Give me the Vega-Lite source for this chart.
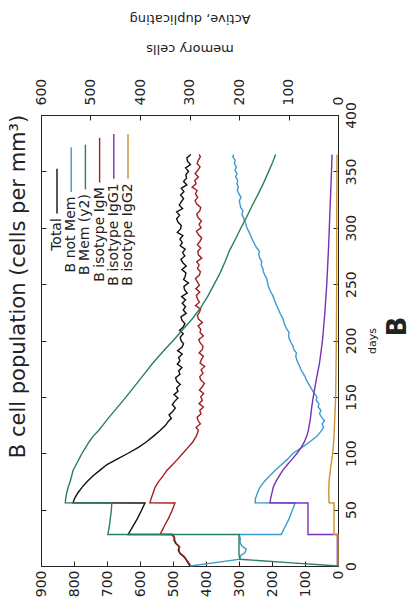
{
  "$schema": "https://vega.github.io/schema/vega-lite/v6.json",
  "width": 297,
  "height": 451,
  "autosize": {"type": "none"},
  "padding": {"left": 41, "top": 115, "right": 77, "bottom": 49},
  "config": {
    "font": "DejaVu Sans",
    "view": {"stroke": "#222", "strokeWidth": 1},
    "axis": {"grid": false, "domain": false, "tickColor": "#222", "labelColor": "#222", "labelFontSize": 14, "labelFont": "DejaVu Sans", "titleFont": "DejaVu Sans", "titleFontWeight": "normal", "titleColor": "#222", "tickSize": -5},
    "line": {"strokeWidth": 1.4}
  },
  "title": {"text": "B", "orient": "right", "angle": -90, "baseline": "top", "fontSize": 26, "fontWeight": "bold", "font": "DejaVu Sans", "color": "#222", "offset": -18, "dx": 14},
  "data": {"values": [
    {"series":"Total","day":0,"value":448},{"series":"Total","day":3,"value":455},{"series":"Total","day":6,"value":461},{"series":"Total","day":9,"value":470},{"series":"Total","day":11,"value":479},{"series":"Total","day":14,"value":484},{"series":"Total","day":17,"value":481},{"series":"Total","day":20,"value":492},{"series":"Total","day":23,"value":497},{"series":"Total","day":25,"value":496},{"series":"Total","day":27.9,"value":503},{"series":"Total","day":28,"value":636},{"series":"Total","day":35,"value":622},{"series":"Total","day":42,"value":608},{"series":"Total","day":49,"value":596},{"series":"Total","day":55.9,"value":585},{"series":"Total","day":56,"value":803},{"series":"Total","day":60,"value":798},{"series":"Total","day":65,"value":788},{"series":"Total","day":70,"value":775},{"series":"Total","day":75,"value":760},{"series":"Total","day":80,"value":742},{"series":"Total","day":85,"value":721},{"series":"Total","day":90,"value":700},{"series":"Total","day":95,"value":668},{"series":"Total","day":100,"value":636},{"series":"Total","day":105,"value":606},{"series":"Total","day":110,"value":581},{"series":"Total","day":115,"value":560},{"series":"Total","day":120,"value":540},{"series":"Total","day":125,"value":522},
    {"series":"Total","day":128,"value":515},{"series":"Total","day":131,"value":505},{"series":"Total","day":134,"value":512},{"series":"Total","day":137,"value":501},{"series":"Total","day":140,"value":493},{"series":"Total","day":143,"value":502},{"series":"Total","day":146,"value":495},{"series":"Total","day":149,"value":485},{"series":"Total","day":152,"value":497},{"series":"Total","day":155,"value":485},{"series":"Total","day":158,"value":489},{"series":"Total","day":161,"value":478},{"series":"Total","day":164,"value":489},{"series":"Total","day":167,"value":492},{"series":"Total","day":170,"value":479},{"series":"Total","day":173,"value":483},{"series":"Total","day":176,"value":473},{"series":"Total","day":179,"value":487},{"series":"Total","day":182,"value":479},{"series":"Total","day":185,"value":483},{"series":"Total","day":188,"value":472},{"series":"Total","day":191,"value":486},{"series":"Total","day":194,"value":473},{"series":"Total","day":197,"value":468},{"series":"Total","day":200,"value":476},{"series":"Total","day":203,"value":478},{"series":"Total","day":206,"value":469},{"series":"Total","day":209,"value":480},{"series":"Total","day":212,"value":469},{"series":"Total","day":215,"value":464},{"series":"Total","day":218,"value":473},{"series":"Total","day":221,"value":476},{"series":"Total","day":224,"value":460},{"series":"Total","day":227,"value":469},{"series":"Total","day":230,"value":462},{"series":"Total","day":233,"value":472},{"series":"Total","day":236,"value":462},{"series":"Total","day":239,"value":474},{"series":"Total","day":242,"value":457},{"series":"Total","day":245,"value":465},{"series":"Total","day":248,"value":467},{"series":"Total","day":251,"value":453},{"series":"Total","day":254,"value":468},{"series":"Total","day":257,"value":463},{"series":"Total","day":260,"value":461},{"series":"Total","day":263,"value":473},{"series":"Total","day":266,"value":460},{"series":"Total","day":269,"value":470},{"series":"Total","day":272,"value":476},{"series":"Total","day":275,"value":464},{"series":"Total","day":278,"value":471},{"series":"Total","day":281,"value":463},{"series":"Total","day":284,"value":478},{"series":"Total","day":287,"value":472},{"series":"Total","day":290,"value":479},{"series":"Total","day":293,"value":470},{"series":"Total","day":296,"value":487},{"series":"Total","day":299,"value":477},{"series":"Total","day":302,"value":475},{"series":"Total","day":305,"value":485},{"series":"Total","day":308,"value":489},{"series":"Total","day":311,"value":480},{"series":"Total","day":314,"value":489},{"series":"Total","day":317,"value":471},{"series":"Total","day":320,"value":481},{"series":"Total","day":323,"value":475},{"series":"Total","day":326,"value":468},{"series":"Total","day":329,"value":477},{"series":"Total","day":332,"value":467},{"series":"Total","day":335,"value":475},{"series":"Total","day":338,"value":458},{"series":"Total","day":341,"value":468},{"series":"Total","day":344,"value":459},{"series":"Total","day":347,"value":461},{"series":"Total","day":350,"value":453},{"series":"Total","day":353,"value":462},{"series":"Total","day":356,"value":447},{"series":"Total","day":359,"value":456},{"series":"Total","day":362,"value":458},{"series":"Total","day":365,"value":446},

    {"series":"B isotype IgM","day":0,"value":446},{"series":"B isotype IgM","day":3,"value":453},{"series":"B isotype IgM","day":6,"value":460},{"series":"B isotype IgM","day":9,"value":468},{"series":"B isotype IgM","day":11,"value":478},{"series":"B isotype IgM","day":14,"value":482},{"series":"B isotype IgM","day":17,"value":480},{"series":"B isotype IgM","day":20,"value":490},{"series":"B isotype IgM","day":23,"value":495},{"series":"B isotype IgM","day":25,"value":495},{"series":"B isotype IgM","day":27.9,"value":501},{"series":"B isotype IgM","day":28,"value":539},{"series":"B isotype IgM","day":35,"value":527},{"series":"B isotype IgM","day":42,"value":514},{"series":"B isotype IgM","day":49,"value":503},{"series":"B isotype IgM","day":55.9,"value":494},{"series":"B isotype IgM","day":56,"value":570},{"series":"B isotype IgM","day":60,"value":566},{"series":"B isotype IgM","day":65,"value":560},{"series":"B isotype IgM","day":70,"value":554},{"series":"B isotype IgM","day":75,"value":543},{"series":"B isotype IgM","day":80,"value":530},{"series":"B isotype IgM","day":85,"value":518},{"series":"B isotype IgM","day":90,"value":501},{"series":"B isotype IgM","day":95,"value":485},{"series":"B isotype IgM","day":100,"value":470},{"series":"B isotype IgM","day":105,"value":455},{"series":"B isotype IgM","day":110,"value":440},{"series":"B isotype IgM","day":115,"value":430},
    {"series":"B isotype IgM","day":120,"value":423},{"series":"B isotype IgM","day":123,"value":430},{"series":"B isotype IgM","day":126,"value":417},{"series":"B isotype IgM","day":129,"value":424},{"series":"B isotype IgM","day":132,"value":427},{"series":"B isotype IgM","day":135,"value":415},{"series":"B isotype IgM","day":138,"value":419},{"series":"B isotype IgM","day":141,"value":408},{"series":"B isotype IgM","day":144,"value":421},{"series":"B isotype IgM","day":147,"value":411},{"series":"B isotype IgM","day":150,"value":416},{"series":"B isotype IgM","day":153,"value":407},{"series":"B isotype IgM","day":156,"value":420},{"series":"B isotype IgM","day":159,"value":411},{"series":"B isotype IgM","day":162,"value":405},{"series":"B isotype IgM","day":165,"value":416},{"series":"B isotype IgM","day":168,"value":419},{"series":"B isotype IgM","day":171,"value":409},{"series":"B isotype IgM","day":174,"value":415},{"series":"B isotype IgM","day":177,"value":404},{"series":"B isotype IgM","day":180,"value":418},{"series":"B isotype IgM","day":183,"value":414},{"series":"B isotype IgM","day":186,"value":408},{"series":"B isotype IgM","day":189,"value":421},{"series":"B isotype IgM","day":192,"value":411},{"series":"B isotype IgM","day":195,"value":409},{"series":"B isotype IgM","day":198,"value":418},{"series":"B isotype IgM","day":201,"value":422},{"series":"B isotype IgM","day":204,"value":408},{"series":"B isotype IgM","day":207,"value":418},{"series":"B isotype IgM","day":210,"value":416},{"series":"B isotype IgM","day":213,"value":424},{"series":"B isotype IgM","day":216,"value":411},{"series":"B isotype IgM","day":219,"value":423},{"series":"B isotype IgM","day":222,"value":426},{"series":"B isotype IgM","day":225,"value":420},{"series":"B isotype IgM","day":228,"value":416},{"series":"B isotype IgM","day":231,"value":432},{"series":"B isotype IgM","day":234,"value":420},{"series":"B isotype IgM","day":237,"value":426},{"series":"B isotype IgM","day":240,"value":429},{"series":"B isotype IgM","day":243,"value":419},{"series":"B isotype IgM","day":246,"value":431},{"series":"B isotype IgM","day":249,"value":420},{"series":"B isotype IgM","day":252,"value":426},{"series":"B isotype IgM","day":255,"value":432},{"series":"B isotype IgM","day":258,"value":420},{"series":"B isotype IgM","day":261,"value":417},{"series":"B isotype IgM","day":264,"value":426},{"series":"B isotype IgM","day":267,"value":421},{"series":"B isotype IgM","day":270,"value":428},{"series":"B isotype IgM","day":273,"value":413},{"series":"B isotype IgM","day":276,"value":423},{"series":"B isotype IgM","day":279,"value":425},{"series":"B isotype IgM","day":282,"value":416},{"series":"B isotype IgM","day":285,"value":426},{"series":"B isotype IgM","day":288,"value":418},{"series":"B isotype IgM","day":291,"value":413},{"series":"B isotype IgM","day":294,"value":423},{"series":"B isotype IgM","day":297,"value":429},{"series":"B isotype IgM","day":300,"value":415},{"series":"B isotype IgM","day":303,"value":421},{"series":"B isotype IgM","day":306,"value":414},{"series":"B isotype IgM","day":309,"value":424},{"series":"B isotype IgM","day":312,"value":428},{"series":"B isotype IgM","day":315,"value":419},{"series":"B isotype IgM","day":318,"value":416},{"series":"B isotype IgM","day":321,"value":428},{"series":"B isotype IgM","day":324,"value":433},{"series":"B isotype IgM","day":327,"value":425},{"series":"B isotype IgM","day":330,"value":432},{"series":"B isotype IgM","day":333,"value":427},{"series":"B isotype IgM","day":336,"value":442},{"series":"B isotype IgM","day":339,"value":430},{"series":"B isotype IgM","day":342,"value":434},{"series":"B isotype IgM","day":345,"value":423},{"series":"B isotype IgM","day":348,"value":433},{"series":"B isotype IgM","day":351,"value":425},{"series":"B isotype IgM","day":354,"value":418},{"series":"B isotype IgM","day":357,"value":427},{"series":"B isotype IgM","day":360,"value":423},{"series":"B isotype IgM","day":363,"value":417},{"series":"B isotype IgM","day":365,"value":421},

    {"series":"B not Mem","day":0,"value":448},{"series":"B not Mem","day":3,"value":372},{"series":"B not Mem","day":6,"value":297},{"series":"B not Mem","day":9,"value":296},{"series":"B not Mem","day":12,"value":282},{"series":"B not Mem","day":15,"value":278},{"series":"B not Mem","day":18,"value":292},{"series":"B not Mem","day":21,"value":297},{"series":"B not Mem","day":24,"value":296},{"series":"B not Mem","day":27.9,"value":299},{"series":"B not Mem","day":28,"value":172},{"series":"B not Mem","day":35,"value":160},{"series":"B not Mem","day":42,"value":148},{"series":"B not Mem","day":49,"value":139},{"series":"B not Mem","day":55.9,"value":130},{"series":"B not Mem","day":56,"value":251},{"series":"B not Mem","day":60,"value":250},{"series":"B not Mem","day":65,"value":244},{"series":"B not Mem","day":70,"value":236},{"series":"B not Mem","day":75,"value":223},{"series":"B not Mem","day":80,"value":207},{"series":"B not Mem","day":85,"value":190},{"series":"B not Mem","day":90,"value":171},{"series":"B not Mem","day":95,"value":152},{"series":"B not Mem","day":100,"value":136},{"series":"B not Mem","day":105,"value":110},{"series":"B not Mem","day":110,"value":86},{"series":"B not Mem","day":115,"value":64},{"series":"B not Mem","day":120,"value":50},{"series":"B not Mem","day":123,"value":44},{"series":"B not Mem","day":126,"value":48},{"series":"B not Mem","day":129,"value":41},{"series":"B not Mem","day":132,"value":50},{"series":"B not Mem","day":135,"value":56},{"series":"B not Mem","day":138,"value":52},{"series":"B not Mem","day":141,"value":60},{"series":"B not Mem","day":144,"value":58},{"series":"B not Mem","day":147,"value":66},{"series":"B not Mem","day":150,"value":64},{"series":"B not Mem","day":153,"value":72},{"series":"B not Mem","day":156,"value":78},{"series":"B not Mem","day":159,"value":84},{"series":"B not Mem","day":162,"value":90},{"series":"B not Mem","day":165,"value":96},{"series":"B not Mem","day":168,"value":100},{"series":"B not Mem","day":171,"value":106},{"series":"B not Mem","day":174,"value":112},{"series":"B not Mem","day":177,"value":116},{"series":"B not Mem","day":180,"value":121},{"series":"B not Mem","day":183,"value":125},{"series":"B not Mem","day":186,"value":128},{"series":"B not Mem","day":189,"value":126},{"series":"B not Mem","day":192,"value":134},{"series":"B not Mem","day":195,"value":136},{"series":"B not Mem","day":198,"value":142},{"series":"B not Mem","day":201,"value":147},{"series":"B not Mem","day":204,"value":150},{"series":"B not Mem","day":207,"value":148},{"series":"B not Mem","day":210,"value":155},{"series":"B not Mem","day":213,"value":160},{"series":"B not Mem","day":216,"value":164},{"series":"B not Mem","day":219,"value":166},{"series":"B not Mem","day":222,"value":172},{"series":"B not Mem","day":225,"value":177},{"series":"B not Mem","day":228,"value":181},{"series":"B not Mem","day":231,"value":186},{"series":"B not Mem","day":234,"value":190},{"series":"B not Mem","day":237,"value":194},{"series":"B not Mem","day":240,"value":198},{"series":"B not Mem","day":243,"value":204},{"series":"B not Mem","day":246,"value":208},{"series":"B not Mem","day":249,"value":212},{"series":"B not Mem","day":252,"value":214},{"series":"B not Mem","day":255,"value":216},{"series":"B not Mem","day":258,"value":222},{"series":"B not Mem","day":261,"value":226},{"series":"B not Mem","day":264,"value":228},{"series":"B not Mem","day":267,"value":233},{"series":"B not Mem","day":270,"value":231},{"series":"B not Mem","day":273,"value":237},{"series":"B not Mem","day":276,"value":240},{"series":"B not Mem","day":279,"value":238},{"series":"B not Mem","day":282,"value":246},{"series":"B not Mem","day":285,"value":252},{"series":"B not Mem","day":288,"value":257},{"series":"B not Mem","day":291,"value":262},{"series":"B not Mem","day":294,"value":266},{"series":"B not Mem","day":297,"value":271},{"series":"B not Mem","day":300,"value":276},{"series":"B not Mem","day":303,"value":279},{"series":"B not Mem","day":306,"value":283},{"series":"B not Mem","day":309,"value":287},{"series":"B not Mem","day":312,"value":291},{"series":"B not Mem","day":315,"value":288},{"series":"B not Mem","day":318,"value":295},{"series":"B not Mem","day":321,"value":297},{"series":"B not Mem","day":324,"value":299},{"series":"B not Mem","day":327,"value":294},{"series":"B not Mem","day":330,"value":300},{"series":"B not Mem","day":333,"value":305},{"series":"B not Mem","day":336,"value":302},{"series":"B not Mem","day":339,"value":306},{"series":"B not Mem","day":342,"value":304},{"series":"B not Mem","day":345,"value":310},{"series":"B not Mem","day":348,"value":306},{"series":"B not Mem","day":351,"value":312},{"series":"B not Mem","day":354,"value":308},{"series":"B not Mem","day":357,"value":314},{"series":"B not Mem","day":360,"value":312},{"series":"B not Mem","day":363,"value":319},{"series":"B not Mem","day":365,"value":316},

    {"series":"B Mem (y2)","day":0,"value":0},{"series":"B Mem (y2)","day":3,"value":100},{"series":"B Mem (y2)","day":6,"value":198},{"series":"B Mem (y2)","day":10,"value":200},{"series":"B Mem (y2)","day":15,"value":200},{"series":"B Mem (y2)","day":20,"value":200},{"series":"B Mem (y2)","day":25,"value":200},{"series":"B Mem (y2)","day":27.9,"value":200},{"series":"B Mem (y2)","day":28,"value":465},{"series":"B Mem (y2)","day":35,"value":462},{"series":"B Mem (y2)","day":42,"value":460},{"series":"B Mem (y2)","day":49,"value":458},{"series":"B Mem (y2)","day":55.9,"value":457},{"series":"B Mem (y2)","day":56,"value":551},{"series":"B Mem (y2)","day":60,"value":550},{"series":"B Mem (y2)","day":65,"value":548},{"series":"B Mem (y2)","day":70,"value":545},{"series":"B Mem (y2)","day":75,"value":541},{"series":"B Mem (y2)","day":80,"value":538},{"series":"B Mem (y2)","day":85,"value":535},{"series":"B Mem (y2)","day":90,"value":529},{"series":"B Mem (y2)","day":95,"value":523},{"series":"B Mem (y2)","day":100,"value":517},{"series":"B Mem (y2)","day":105,"value":510},{"series":"B Mem (y2)","day":110,"value":503},{"series":"B Mem (y2)","day":115,"value":495},{"series":"B Mem (y2)","day":120,"value":484},{"series":"B Mem (y2)","day":125,"value":475},{"series":"B Mem (y2)","day":130,"value":466},{"series":"B Mem (y2)","day":140,"value":447},{"series":"B Mem (y2)","day":150,"value":428},{"series":"B Mem (y2)","day":160,"value":410},{"series":"B Mem (y2)","day":170,"value":392},{"series":"B Mem (y2)","day":180,"value":374},{"series":"B Mem (y2)","day":190,"value":354},{"series":"B Mem (y2)","day":200,"value":333},{"series":"B Mem (y2)","day":210,"value":313},{"series":"B Mem (y2)","day":220,"value":293},{"series":"B Mem (y2)","day":230,"value":276},{"series":"B Mem (y2)","day":240,"value":262},{"series":"B Mem (y2)","day":250,"value":250},{"series":"B Mem (y2)","day":260,"value":238},{"series":"B Mem (y2)","day":270,"value":228},{"series":"B Mem (y2)","day":280,"value":219},{"series":"B Mem (y2)","day":290,"value":207},{"series":"B Mem (y2)","day":300,"value":196},{"series":"B Mem (y2)","day":310,"value":184},{"series":"B Mem (y2)","day":320,"value":173},{"series":"B Mem (y2)","day":330,"value":161},{"series":"B Mem (y2)","day":340,"value":150},{"series":"B Mem (y2)","day":350,"value":140},{"series":"B Mem (y2)","day":358,"value":132},{"series":"B Mem (y2)","day":365,"value":126},

    {"series":"B isotype IgG1","day":0,"value":2},{"series":"B isotype IgG1","day":27.9,"value":2},{"series":"B isotype IgG1","day":28,"value":91},{"series":"B isotype IgG1","day":55.9,"value":91},{"series":"B isotype IgG1","day":56,"value":206},{"series":"B isotype IgG1","day":60,"value":204},{"series":"B isotype IgG1","day":65,"value":200},{"series":"B isotype IgG1","day":70,"value":196},{"series":"B isotype IgG1","day":75,"value":188},{"series":"B isotype IgG1","day":80,"value":178},{"series":"B isotype IgG1","day":85,"value":167},{"series":"B isotype IgG1","day":90,"value":153},{"series":"B isotype IgG1","day":95,"value":138},{"series":"B isotype IgG1","day":100,"value":124},{"series":"B isotype IgG1","day":105,"value":112},{"series":"B isotype IgG1","day":110,"value":102},{"series":"B isotype IgG1","day":115,"value":95},{"series":"B isotype IgG1","day":120,"value":90},{"series":"B isotype IgG1","day":130,"value":84},{"series":"B isotype IgG1","day":140,"value":80},{"series":"B isotype IgG1","day":150,"value":75},{"series":"B isotype IgG1","day":165,"value":66},{"series":"B isotype IgG1","day":180,"value":56},{"series":"B isotype IgG1","day":200,"value":47},{"series":"B isotype IgG1","day":224,"value":40},{"series":"B isotype IgG1","day":250,"value":34},{"series":"B isotype IgG1","day":280,"value":29},{"series":"B isotype IgG1","day":310,"value":25},{"series":"B isotype IgG1","day":340,"value":21},{"series":"B isotype IgG1","day":365,"value":18},

    {"series":"B isotype IgG2","day":0,"value":0},{"series":"B isotype IgG2","day":27.9,"value":0},{"series":"B isotype IgG2","day":28,"value":12},{"series":"B isotype IgG2","day":55.9,"value":12},{"series":"B isotype IgG2","day":56,"value":27},{"series":"B isotype IgG2","day":65,"value":28},{"series":"B isotype IgG2","day":76,"value":27},{"series":"B isotype IgG2","day":88,"value":22},{"series":"B isotype IgG2","day":100,"value":16},{"series":"B isotype IgG2","day":115,"value":12},{"series":"B isotype IgG2","day":130,"value":10},{"series":"B isotype IgG2","day":150,"value":7},{"series":"B isotype IgG2","day":200,"value":5},{"series":"B isotype IgG2","day":250,"value":4},{"series":"B isotype IgG2","day":300,"value":4},{"series":"B isotype IgG2","day":365,"value":3}
  ]},
  "layer": [
    {
      "transform": [{"filter": "datum.series !== 'B Mem (y2)'"}],
      "mark": {"type": "line"},
      "encoding": {
        "x": {"field": "value", "type": "quantitative",
          "scale": {"domain": [0, 900], "reverse": true, "nice": false, "zero": false},
          "axis": {"orient": "bottom", "values": [0,100,200,300,400,500,600,700,800,900], "labelAngle": -90, "labelAlign": "right", "labelBaseline": "middle", "labelPadding": 9, "title": null}},
        "y": {"field": "day", "type": "quantitative",
          "scale": {"domain": [0, 400], "nice": false},
          "axis": {"orient": "right", "values": [0,50,100,150,200,250,300,350,400], "labelAngle": -90, "labelAlign": "center", "labelBaseline": "top", "labelPadding": 11, "title": "days", "titleAngle": -90, "titleBaseline": "top", "titleFontSize": 11, "titlePadding": 8}},
        "color": {"field": "series", "type": "nominal",
          "scale": {"domain": ["Total", "B not Mem", "B Mem (y2)", "B isotype IgM", "B isotype IgG1", "B isotype IgG2"], "range": ["#111111", "#3d9bcb", "#2a7f5f", "#a11f1f", "#7b2fb5", "#c89332"]},
          "legend": {"orient": "none", "legendX": 16, "legendY": 41, "padding": 0, "direction": "horizontal", "columns": 6, "title": null, "symbolType": "M0,-10L0,10", "symbolSize": 20, "symbolStrokeWidth": 1.5, "labelFontSize": 14, "labelColor": "#222", "labelOffset": 0, "labelAlign": "right", "labelBaseline": "middle", "labelLimit": 0, "columnPadding": -0.8,
            "encoding": {"symbols": {"x": {"value": 0}, "y": {"value": 0}}, "labels": {"x": {"value": 0}, "y": {"value": 27}, "angle": {"value": -90}, "align": {"value": "right"}, "baseline": {"value": "middle"}}}}},
        "order": {"field": "day", "type": "quantitative"}
      }
    },
    {
      "transform": [{"filter": "datum.series === 'B Mem (y2)'"}],
      "mark": {"type": "line"},
      "encoding": {
        "x": {"field": "value", "type": "quantitative",
          "scale": {"domain": [0, 600], "reverse": true, "nice": false, "zero": false},
          "axis": {"orient": "top", "values": [0,100,200,300,400,500,600], "labelAngle": -90, "labelAlign": "left", "labelBaseline": "middle", "labelPadding": 15, "title": ["memory cells", "Active, duplicating"], "titleAngle": 180, "titleBaseline": "top", "titleFontSize": 13, "titleLineHeight": 30, "titleY": -61}},
        "y": {"field": "day", "type": "quantitative",
          "scale": {"domain": [0, 400], "nice": false},
          "axis": {"orient": "left", "values": [0,50,100,150,200,250,300,350,400], "labels": false, "title": "B cell population (cells per mm³)", "titleFontSize": 21, "titlePadding": 12, "titleY": 171}},
        "color": {"field": "series", "type": "nominal",
          "scale": {"domain": ["Total", "B not Mem", "B Mem (y2)", "B isotype IgM", "B isotype IgG1", "B isotype IgG2"], "range": ["#111111", "#3d9bcb", "#2a7f5f", "#a11f1f", "#7b2fb5", "#c89332"]},
          "legend": {"orient": "none", "legendX": 16, "legendY": 41, "padding": 0, "direction": "horizontal", "columns": 6, "title": null, "symbolType": "M0,-10L0,10", "symbolSize": 20, "symbolStrokeWidth": 1.5, "labelFontSize": 14, "labelColor": "#222", "labelOffset": 0, "labelAlign": "right", "labelBaseline": "middle", "labelLimit": 0, "columnPadding": -0.8,
            "encoding": {"symbols": {"x": {"value": 0}, "y": {"value": 0}}, "labels": {"x": {"value": 0}, "y": {"value": 27}, "angle": {"value": -90}, "align": {"value": "right"}, "baseline": {"value": "middle"}}}}},
        "order": {"field": "day", "type": "quantitative"}
      }
    }
  ],
  "resolve": {"scale": {"x": "independent", "y": "independent"}}
}
